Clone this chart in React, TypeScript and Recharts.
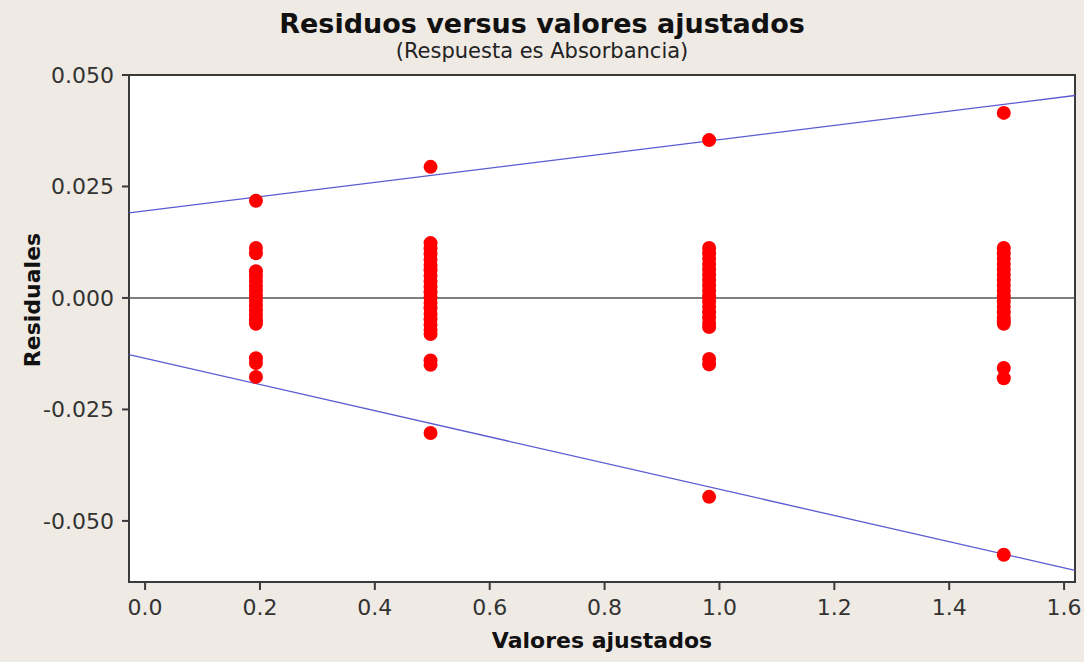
import {
  ScatterChart,
  Scatter,
  XAxis,
  YAxis,
  ReferenceArea,
  ReferenceLine,
} from "recharts";

// Fitted values (one column of residuals per fitted level)
const fittedLevels = [0.193, 0.497, 0.982, 1.495];

const residualsAt019 = [
  0.0218, 0.0112, 0.01, 0.006, 0.0049, 0.0038, 0.0027, 0.0016, 0.0005, -0.0006,
  -0.0017, -0.0028, -0.0039, -0.005, -0.0058, -0.0135, -0.0146, -0.0177,
];
const residualsAt050 = [
  0.0294, 0.0123, 0.0111, 0.0099, 0.0086, 0.0074, 0.0062, 0.005, 0.0037, 0.0025,
  0.0013, 0.0001, -0.0011, -0.0023, -0.0036, -0.0048, -0.006, -0.0072, -0.0081,
  -0.014, -0.015, -0.0303,
];
const residualsAt098 = [
  0.0354, 0.0112, 0.01, 0.0088, 0.0076, 0.0064, 0.0052, 0.004, 0.0028, 0.0016,
  0.0004, -0.0008, -0.002, -0.0032, -0.0044, -0.0056, -0.0065, -0.0137, -0.0149,
  -0.0446,
];
const residualsAt150 = [
  0.0415, 0.0112, 0.01, 0.0088, 0.0076, 0.0064, 0.0052, 0.004, 0.0028, 0.0016,
  0.0004, -0.0008, -0.002, -0.0032, -0.0044, -0.0052, -0.0058, -0.0157, -0.018,
  -0.0576,
];
const residualColumns = [residualsAt019, residualsAt050, residualsAt098, residualsAt150];

// Envelope lines (endpoints at the plot edges)
const upperEnvelope = [
  { x: -0.028, y: 0.0191 },
  { x: 1.619, y: 0.0454 },
];
const lowerEnvelope = [
  { x: -0.028, y: -0.0127 },
  { x: 1.619, y: -0.0611 },
];

const xTicks = [0, 0.2, 0.4, 0.6, 0.8, 1.0, 1.2, 1.4, 1.6];
const yTicks = [0.05, 0.025, 0, -0.025, -0.05];
const xDomain: [number, number] = [-0.028, 1.619];
const yDomain: [number, number] = [-0.0637, 0.05];

const points = fittedLevels.flatMap((fit, i) =>
  residualColumns[i].map((r) => ({ fit, resid: r }))
);

const FONT = "'DejaVu Sans', Verdana, sans-serif";
const BG = "#efeae4";
const FRAME = "#3a3a3a";

const Dot = (props: any) => (
  <circle cx={props.cx} cy={props.cy} r={7} fill="#ff0000" />
);

export default function App() {
  return (
    <div
      style={{
        position: "absolute",
        left: 0,
        top: 0,
        width: 1084,
        height: 662,
        background: BG,
        fontFamily: FONT,
      }}
    >
      <div
        style={{
          position: "absolute",
          left: 0,
          width: 1084,
          top: 9,
          textAlign: "center",
          fontSize: 27,
          fontWeight: "bold",
          color: "#111",
          lineHeight: "30px",
        }}
      >
        Residuos versus valores ajustados
      </div>
      <div
        style={{
          position: "absolute",
          left: 0,
          width: 1084,
          top: 40,
          textAlign: "center",
          fontSize: 21,
          color: "#222",
          lineHeight: "22px",
        }}
      >
        (Respuesta es Absorbancia)
      </div>
      <ScatterChart
        width={1084}
        height={662}
        margin={{ top: 75, right: 9, bottom: 0, left: 0 }}
      >
        <XAxis
          type="number"
          dataKey="fit"
          domain={xDomain}
          allowDataOverflow
          ticks={xTicks}
          tickFormatter={(v: number) => v.toFixed(1)}
          height={80}
          axisLine={false}
          tickLine={{ stroke: FRAME, strokeWidth: 2 }}
          tickSize={8}
          tickMargin={9}
          tick={{ fill: "#333", fontSize: 22, fontFamily: FONT }}
          label={{
            value: "Valores ajustados",
            position: "insideBottom",
            offset: 14,
            fill: "#111",
            fontSize: 22,
            fontWeight: "bold",
            fontFamily: FONT,
          }}
        />
        <YAxis
          type="number"
          dataKey="resid"
          domain={yDomain}
          allowDataOverflow
          ticks={yTicks}
          tickFormatter={(v: number) => v.toFixed(3)}
          width={129}
          axisLine={false}
          tickLine={{ stroke: FRAME, strokeWidth: 2 }}
          tickSize={7}
          tickMargin={8}
          tick={{ fill: "#333", fontSize: 22, fontFamily: FONT }}
          label={{
            content: () => (
              <text
                x={32}
                y={300}
                transform="rotate(-90 32 300)"
                textAnchor="middle"
                dominantBaseline="central"
                fill="#111"
                fontSize={22}
                fontWeight="bold"
                fontFamily={FONT}
              >
                Residuales
              </text>
            ),
          }}
        />
        <ReferenceArea
          x1={xDomain[0]}
          x2={xDomain[1]}
          y1={yDomain[0]}
          y2={yDomain[1]}
          fill="#ffffff"
          fillOpacity={1}
          stroke={FRAME}
          strokeWidth={2}
          ifOverflow="visible"
        />
        <ReferenceLine y={0} stroke="#555" strokeWidth={1.5} />
        <ReferenceLine
          segment={upperEnvelope}
          stroke="#5a5ad2"
          strokeWidth={1.3}
          ifOverflow="visible"
        />
        <ReferenceLine
          segment={lowerEnvelope}
          stroke="#5a5ad2"
          strokeWidth={1.3}
          ifOverflow="visible"
        />
        <Scatter data={points} shape={Dot} isAnimationActive={false} />
      </ScatterChart>
    </div>
  );
}
